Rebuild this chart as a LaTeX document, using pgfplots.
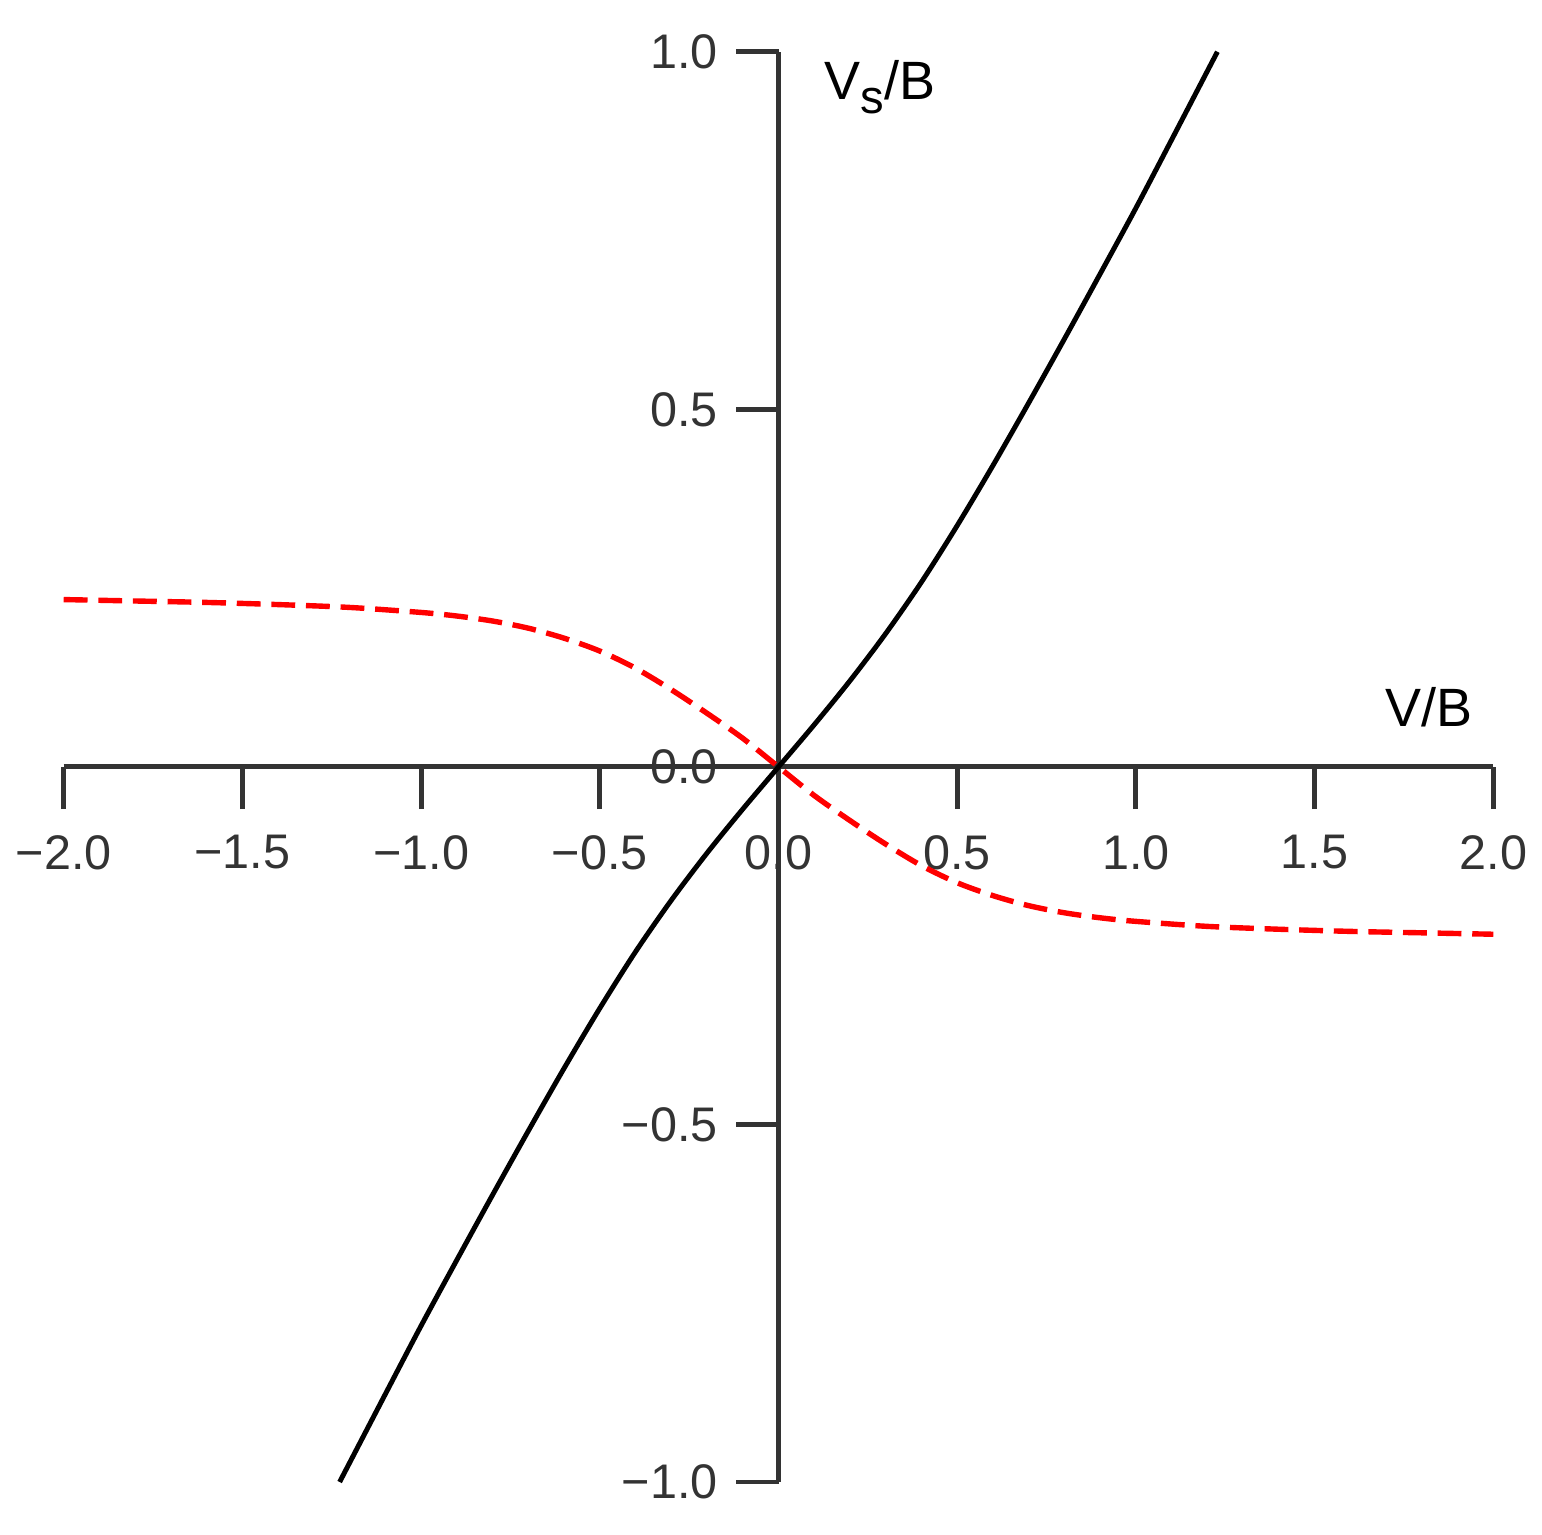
\documentclass[border=0pt]{standalone}
\usepackage{fontspec}
\setmainfont{Liberation Sans}
\usepackage{pgfplots}
\pgfplotsset{compat=1.18}
\definecolor{axisgrey}{HTML}{333333}

\begin{document}
\begin{tikzpicture}
\begin{axis}[
  width=11.175cm, height=11.18cm, scale only axis,
  xmin=-2, xmax=2, ymin=-1, ymax=1,
  axis lines=middle,
  axis line style={axisgrey, line width=1.1pt, -},
  hide obscured x ticks=false, hide obscured y ticks=false,
  xtick={-2,-1.5,-1,-0.5,0,0.5,1,1.5,2},
  ytick={-1,-0.5,0,0.5,1},
  xticklabels={−2.0,−1.5,−1.0,−0.5,0.0,0.5,1.0,1.5,2.0},
  yticklabels={−1.0,−0.5,0.0,0.5,1.0},
  tick align=outside, major tick length=0.33cm,
  tick style={axisgrey, line width=1.1pt},
  ticklabel style={font=\fontsize{10.8}{12}\selectfont, text=axisgrey},
  xticklabel style={yshift=-0.08cm},
  yticklabel style={xshift=-0.02cm},
  xlabel={V/B}, ylabel={V\raisebox{-0.5ex}{\fontsize{10.5}{12}\selectfont s}/B},
  label style={font=\fontsize{12}{14}\selectfont},
  xlabel style={at={(axis description cs:0.955,0.542)}, anchor=center},
  ylabel style={at={(axis description cs:0.571,0.975)}, anchor=center},
  clip=false,
]
% black curve
\addplot[black, line width=1.1pt, smooth] coordinates {
  (-1.228,-1.0) (-1.1,-0.877) (-1.0,-0.7815) (-0.9,-0.6895)
  (-0.8,-0.5985) (-0.7,-0.509) (-0.6,-0.4215) (-0.5,-0.3375)
  (-0.4,-0.2585) (-0.3,-0.1865) (-0.2,-0.1205) (-0.1,-0.059)
  (0,0) (0.1,0.059) (0.2,0.1205) (0.3,0.1865) (0.4,0.2585)
  (0.5,0.3375) (0.6,0.4215) (0.7,0.509) (0.8,0.5985)
  (0.9,0.6895) (1.0,0.7815) (1.1,0.877) (1.228,1.0)
};
% red dashed curve
\addplot[red, line width=1.2pt, dash pattern=on 5.3pt off 2.4pt, smooth] coordinates {
  (-2.0,0.234) (-1.8,0.232) (-1.6,0.230) (-1.4,0.227) (-1.2,0.223)
  (-1.0,0.216) (-0.9,0.211) (-0.8,0.204) (-0.7,0.194) (-0.6,0.180)
  (-0.5,0.162) (-0.4,0.138) (-0.3,0.108) (-0.2,0.075) (-0.1,0.040)
  (0,0) (0.1,-0.040) (0.2,-0.075) (0.3,-0.108) (0.4,-0.138)
  (0.5,-0.162) (0.6,-0.180) (0.7,-0.194) (0.8,-0.204) (0.9,-0.211)
  (1.0,-0.216) (1.2,-0.223) (1.4,-0.227) (1.6,-0.230) (1.8,-0.232)
  (2.0,-0.234)
};
\end{axis}
\path ([shift={(-0.498cm,-0.412cm)}]current axis.south west) rectangle
      ([shift={(0.327cm,0.405cm)}]current axis.north east);
\end{tikzpicture}
\end{document}
